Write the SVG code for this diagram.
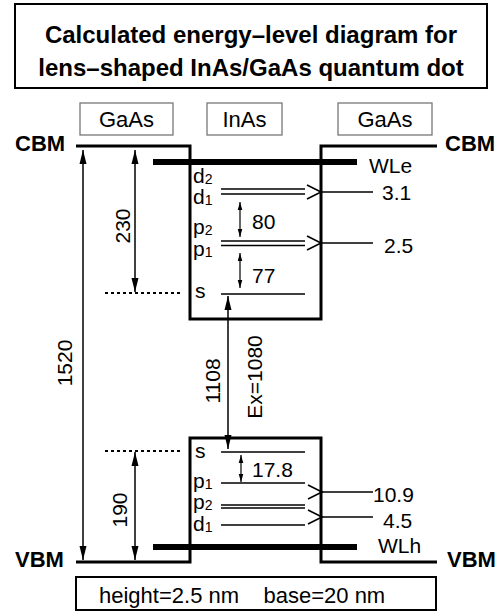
<svg xmlns="http://www.w3.org/2000/svg" width="496" height="612" viewBox="0 0 496 612">
<defs>
<style>
.t{font-family:"Liberation Sans",Arial,Helvetica,sans-serif;fill:#000}
.title{font-size:24px;font-weight:bold}
.hdr{font-size:22px}
.band{font-size:22px;font-weight:bold}
.num{font-size:21px}
.lvl{font-size:21px}
.sub{font-size:14px}
.box{fill:#fff;stroke:#000;stroke-width:2}
.hbox{fill:#fff;stroke:#777;stroke-width:1.3}
.wall{fill:none;stroke:#000;stroke-width:3}
.wl{stroke:#000;stroke-width:6}
.lv{stroke:#000;stroke-width:1.6;fill:none}
.dot{stroke:#000;stroke-width:2;stroke-dasharray:3 3}
.arr{stroke:#000;stroke-width:1.5;marker-start:url(#ah);marker-end:url(#ah)}
.sarr{stroke:#000;stroke-width:1.2;marker-start:url(#sh);marker-end:url(#sh)}
</style>
<marker id="ah" markerWidth="14" markerHeight="8" refX="14" refY="4" orient="auto-start-reverse" markerUnits="userSpaceOnUse"><path d="M0,0.5 L14,4 L0,7.5z" fill="#000"/></marker>
<marker id="sh" markerWidth="8" markerHeight="6" refX="8" refY="3" orient="auto-start-reverse" markerUnits="userSpaceOnUse"><path d="M0,0.7 L8,3 L0,5.3z" fill="#000"/></marker>
</defs>
<rect width="496" height="612" fill="#fff"/>

<g id="title">
<rect class="box" x="15" y="4" width="472" height="84"/>
<text class="t title" x="251" y="43" text-anchor="middle">Calculated energy–level diagram for</text>
<text class="t title" x="251" y="76" text-anchor="middle">lens–shaped InAs/GaAs quantum dot</text>
</g>

<g id="hdr-gaas-left"><rect class="hbox" x="80" y="103" width="93" height="32"/><text class="t hdr" x="126.5" y="127" text-anchor="middle">GaAs</text></g>
<g id="hdr-inas"><rect class="hbox" x="207" y="103" width="75" height="32"/><text class="t hdr" x="244.5" y="127" text-anchor="middle">InAs</text></g>
<g id="hdr-gaas-right"><rect class="hbox" x="338" y="103" width="94" height="32"/><text class="t hdr" x="385" y="127" text-anchor="middle">GaAs</text></g>

<g id="cbm">
<path class="wall" d="M76,146 H190 V319 H321 V146 H437"/>
<text class="t band" x="15" y="151">CBM</text>
<text class="t band" x="445" y="151">CBM</text>
</g>

<g id="vbm">
<path class="wall" d="M76,562 H190 V438 H321 V562 H437"/>
<text class="t band" x="15" y="567">VBM</text>
<text class="t band" x="447" y="567">VBM</text>
</g>

<g id="wle"><line class="wl" x1="153" y1="162" x2="357" y2="162"/><text class="t num" x="369" y="173">WLe</text></g>
<g id="wlh"><line class="wl" x1="153" y1="547" x2="357" y2="547"/><text class="t num" x="378" y="553">WLh</text></g>

<g id="electron-levels">
<line class="lv" x1="221" y1="189" x2="305" y2="189"/>
<line class="lv" x1="221" y1="194" x2="305" y2="194"/>
<line class="lv" x1="221" y1="241" x2="305" y2="241"/>
<line class="lv" x1="221" y1="245.5" x2="305" y2="245.5"/>
<line class="lv" x1="221" y1="294" x2="305" y2="294"/>
<text class="t lvl" x="193" y="183">d<tspan class="sub" dy="1">2</tspan></text>
<text class="t lvl" x="193" y="204">d<tspan class="sub" dy="1">1</tspan></text>
<text class="t lvl" x="193" y="234">p<tspan class="sub" dy="1">2</tspan></text>
<text class="t lvl" x="193" y="256">p<tspan class="sub" dy="1">1</tspan></text>
<text class="t lvl" x="195" y="298">s</text>
</g>

<g id="hole-levels">
<line class="lv" x1="221" y1="452" x2="305" y2="452"/>
<line class="lv" x1="221" y1="483" x2="305" y2="483" stroke-width="2.2"/>
<line class="lv" x1="221" y1="505" x2="305" y2="505"/>
<line class="lv" x1="221" y1="508" x2="305" y2="508"/>
<line class="lv" x1="221" y1="525" x2="305" y2="525"/>
<text class="t lvl" x="195" y="458">s</text>
<text class="t lvl" x="193" y="488">p<tspan class="sub" dy="1">1</tspan></text>
<text class="t lvl" x="193" y="509">p<tspan class="sub" dy="1">2</tspan></text>
<text class="t lvl" x="193" y="531">d<tspan class="sub" dy="1">1</tspan></text>
</g>

<g id="connectors">
<polyline class="lv" points="307,185 321,192 307,199"/>
<line class="lv" x1="321" y1="192" x2="373" y2="192"/>
<polyline class="lv" points="307,236 321,243 307,250"/>
<line class="lv" x1="321" y1="243" x2="373" y2="243"/>
<polyline class="lv" points="308,485 322,492 308,499"/>
<line class="lv" x1="322" y1="492" x2="373" y2="492"/>
<polyline class="lv" points="308,510 322,517 308,524"/>
<line class="lv" x1="322" y1="517" x2="373" y2="517"/>

<line class="dot" x1="105" y1="293" x2="181" y2="293"/>
<line class="dot" x1="105" y1="451" x2="181" y2="451"/>

<line class="arr" x1="83" y1="150" x2="83" y2="560"/>
<line class="arr" x1="135" y1="150" x2="135" y2="292"/>
<line class="arr" x1="135" y1="452" x2="135" y2="560"/>
<line class="arr" x1="228" y1="296" x2="228" y2="449"/>
<line class="sarr" x1="240" y1="202" x2="240" y2="237"/>
<line class="sarr" x1="240" y1="253" x2="240" y2="288"/>
<line class="sarr" x1="241" y1="455" x2="241" y2="482"/>
</g>

<g id="labels">
<text class="t num" x="382" y="200">3.1</text>
<text class="t num" x="384" y="253">2.5</text>
<text class="t num" x="373" y="502">10.9</text>
<text class="t num" x="383" y="528">4.5</text>
<text class="t num" x="252" y="229">80</text>
<text class="t num" x="252" y="283">77</text>
<text class="t num" x="252" y="477">17.8</text>
<text class="t num" transform="translate(72,363) rotate(-90)" text-anchor="middle">1520</text>
<text class="t num" transform="translate(130,226) rotate(-90)" text-anchor="middle">230</text>
<text class="t num" transform="translate(127,510) rotate(-90)" text-anchor="middle">190</text>
<text class="t num" transform="translate(220,381) rotate(-90)" text-anchor="middle">1108</text>
<text class="t num" transform="translate(262,377) rotate(-90)" text-anchor="middle">Ex=1080</text>
</g>

<g id="footer">
<rect class="box" x="76" y="577" width="360" height="33"/>
<text class="t hdr" x="99" y="603" xml:space="preserve">height=2.5 nm    base=20 nm</text>
</g>
</svg>
